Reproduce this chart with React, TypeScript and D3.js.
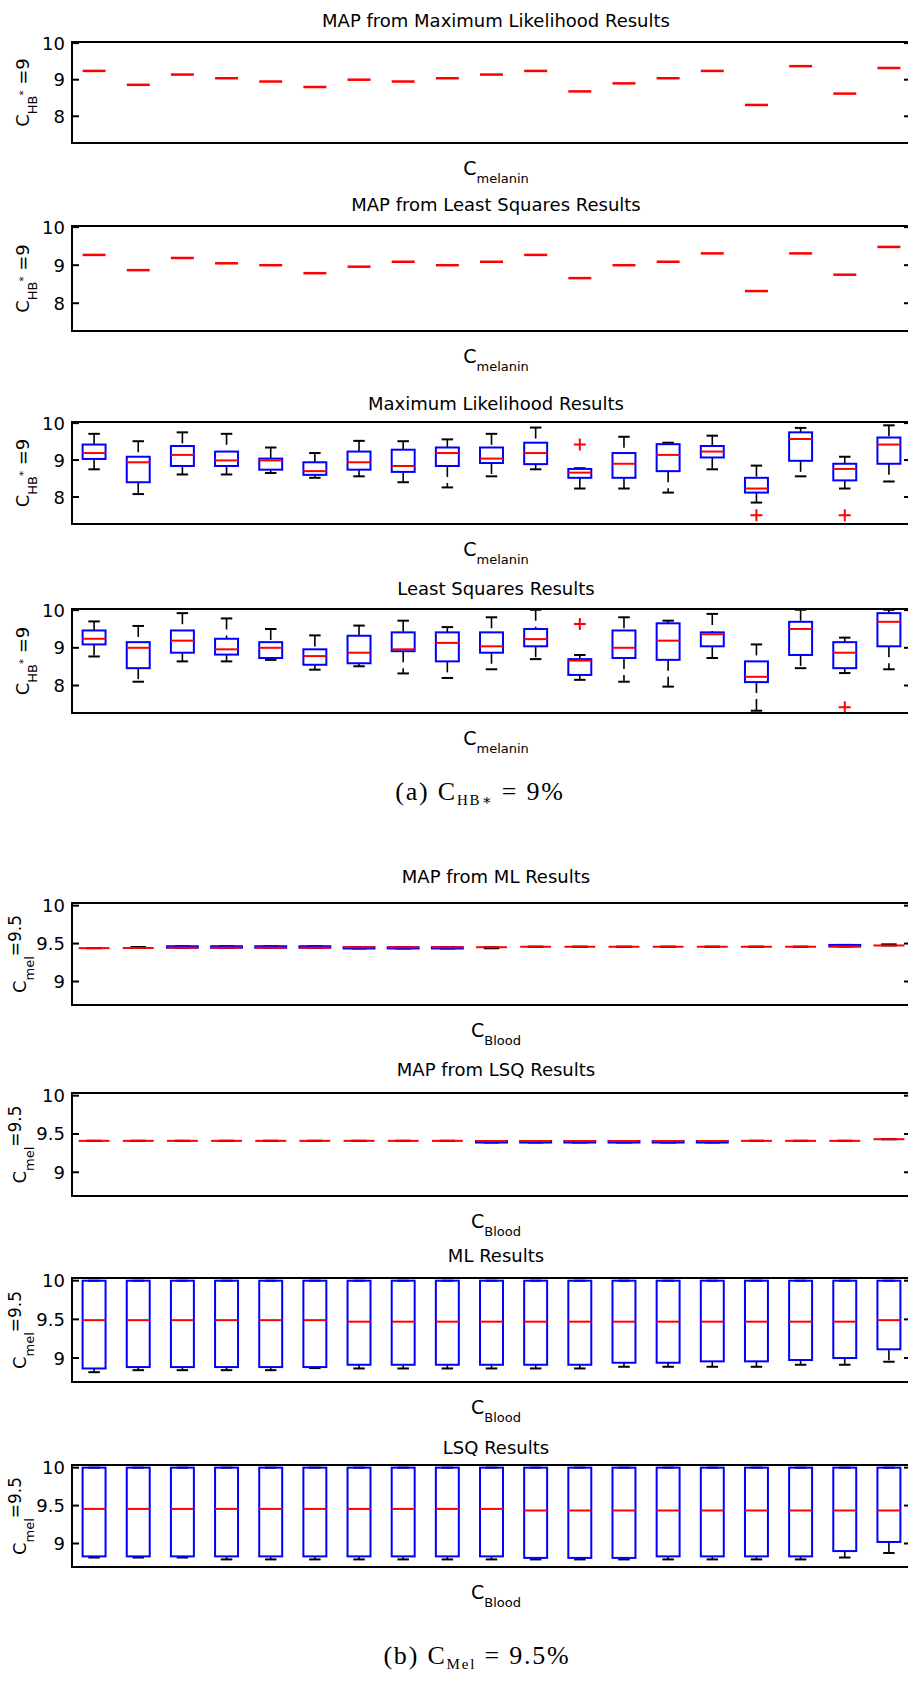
import React from 'react';
import * as d3 from 'd3';

const WIDTH = 908;
const HEIGHT = 1681;
const AX_LEFT = 72;
const AX_RIGHT = 911;
const LABEL_CX = 496;
const SANS = "'DejaVu Sans', 'Liberation Sans', sans-serif";
const SERIF = "'Liberation Serif', 'DejaVu Serif', serif";

// concentration levels along the x axis (boxplot positions)
const levels = [1, 2, 3, 4, 5, 6, 7, 8, 9, 10, 11, 12, 13, 14, 15, 16, 17, 18, 19];

// ---------- (a) C_HB* = 9 ----------
const ticksA = [8, 9, 10];
const domainA: [number, number] = [7.27, 10.03];

const mapMlMed = [9.24, 8.86, 9.14, 9.04, 8.95, 8.8, 9.0, 8.95, 9.04, 9.14, 9.24, 8.68, 8.9, 9.04, 9.24, 8.31, 9.37, 8.62, 9.32];
const mapLsqMed = [9.27, 8.87, 9.19, 9.05, 9.0, 8.79, 8.96, 9.09, 9.0, 9.09, 9.27, 8.66, 9.0, 9.09, 9.31, 8.32, 9.31, 8.75, 9.48];

const mlALo = [8.75, 8.08, 8.61, 8.61, 8.65, 8.52, 8.56, 8.4, 8.26, 8.56, 8.75, 8.23, 8.23, 8.12, 8.75, 7.85, 8.56, 8.23, 8.42];
const mlAQ1 = [9.03, 8.4, 8.84, 8.84, 8.74, 8.6, 8.74, 8.68, 8.84, 8.92, 8.89, 8.52, 8.52, 8.7, 9.07, 8.12, 8.98, 8.45, 8.9];
const mlAMed = [9.19, 8.94, 9.14, 8.99, 8.99, 8.7, 8.94, 8.84, 9.19, 9.04, 9.19, 8.66, 8.9, 9.14, 9.23, 8.23, 9.57, 8.76, 9.42];
const mlAQ3 = [9.42, 9.09, 9.38, 9.23, 9.04, 8.94, 9.23, 9.28, 9.34, 9.34, 9.47, 8.76, 9.19, 9.43, 9.38, 8.52, 9.75, 8.9, 9.61];
const mlAHi = [9.71, 9.51, 9.75, 9.71, 9.34, 9.19, 9.52, 9.51, 9.56, 9.71, 9.88, 8.78, 9.63, 9.47, 9.66, 8.85, 9.87, 9.09, 9.94];
const mlAOut: [number, number][] = [[12, 9.42], [16, 7.51], [18, 7.51]];

const lsqALo = [8.77, 8.1, 8.64, 8.64, 8.68, 8.42, 8.51, 8.32, 8.2, 8.43, 8.7, 8.15, 8.1, 7.97, 8.73, 7.33, 8.46, 8.33, 8.43];
const lsqAQ1 = [9.09, 8.46, 8.87, 8.82, 8.73, 8.55, 8.59, 8.91, 8.64, 8.87, 9.04, 8.28, 8.73, 8.68, 9.04, 8.09, 8.81, 8.46, 9.04];
const lsqAMed = [9.24, 9.0, 9.19, 8.96, 9.0, 8.78, 8.87, 8.96, 9.13, 9.04, 9.23, 8.66, 9.0, 9.19, 9.36, 8.23, 9.5, 8.87, 9.69];
const lsqAQ3 = [9.46, 9.15, 9.46, 9.24, 9.15, 8.96, 9.32, 9.41, 9.41, 9.41, 9.5, 8.7, 9.46, 9.65, 9.41, 8.64, 9.69, 9.15, 9.92];
const lsqAHi = [9.7, 9.58, 9.92, 9.78, 9.5, 9.33, 9.59, 9.72, 9.55, 9.81, 10.01, 8.81, 9.81, 9.72, 9.9, 9.09, 10.01, 9.27, 10.01];
const lsqAOut: [number, number][] = [[12, 9.63], [18, 7.42]];

// ---------- (b) C_mel = 9.5 ----------
const ticksB = [9, 9.5, 10];
const tickLabelsB = ['9', '9.5', '10'];
const domainB: [number, number] = [8.69, 10.035];

const mapMlBLo = [9.44, 9.442, 9.445, 9.445, 9.445, 9.445, 9.435, 9.435, 9.435, 9.438, 9.458, 9.458, 9.458, 9.458, 9.458, 9.458, 9.458, 9.462, 9.475];
const mapMlBQ1 = [9.44, 9.442, 9.445, 9.445, 9.445, 9.445, 9.435, 9.435, 9.435, 9.452, 9.458, 9.458, 9.458, 9.458, 9.458, 9.458, 9.458, 9.462, 9.475];
const mapMlBMed = [9.44, 9.442, 9.445, 9.445, 9.445, 9.445, 9.452, 9.452, 9.452, 9.452, 9.458, 9.458, 9.458, 9.458, 9.458, 9.458, 9.458, 9.462, 9.475];
const mapMlBQ3 = [9.44, 9.442, 9.465, 9.465, 9.465, 9.465, 9.452, 9.452, 9.452, 9.452, 9.458, 9.458, 9.458, 9.458, 9.458, 9.458, 9.458, 9.482, 9.475];
const mapMlBHi = [9.44, 9.455, 9.465, 9.465, 9.465, 9.465, 9.452, 9.452, 9.452, 9.452, 9.458, 9.458, 9.458, 9.458, 9.458, 9.458, 9.458, 9.482, 9.49];

const mapLsqBQ1 = [9.41, 9.41, 9.41, 9.41, 9.41, 9.41, 9.41, 9.41, 9.41, 9.388, 9.388, 9.388, 9.388, 9.388, 9.388, 9.41, 9.41, 9.41, 9.432];
const mapLsqBMed = [9.41, 9.41, 9.41, 9.41, 9.41, 9.41, 9.41, 9.41, 9.41, 9.408, 9.408, 9.408, 9.408, 9.408, 9.408, 9.41, 9.41, 9.41, 9.432];

const mlBLo = [8.817, 8.843, 8.843, 8.843, 8.843, 8.87, 8.865, 8.865, 8.865, 8.865, 8.865, 8.865, 8.887, 8.887, 8.887, 8.887, 8.913, 8.913, 8.952];
const mlBQ1 = [8.865, 8.883, 8.883, 8.883, 8.883, 8.883, 8.913, 8.913, 8.913, 8.913, 8.913, 8.913, 8.939, 8.939, 8.957, 8.957, 8.974, 9.0, 9.113];
const mlBMed = [9.49, 9.49, 9.49, 9.49, 9.49, 9.49, 9.47, 9.47, 9.47, 9.47, 9.47, 9.47, 9.47, 9.47, 9.47, 9.47, 9.47, 9.47, 9.49];
const mlBQ3 = [10, 10, 10, 10, 10, 10, 10, 10, 10, 10, 10, 10, 10, 10, 10, 10, 10, 10, 10];

const lsqBLo = [8.815, 8.815, 8.815, 8.79, 8.79, 8.79, 8.79, 8.79, 8.79, 8.79, 8.79, 8.79, 8.79, 8.79, 8.79, 8.79, 8.79, 8.815, 8.875];
const lsqBQ1 = [8.83, 8.83, 8.83, 8.83, 8.83, 8.83, 8.83, 8.83, 8.83, 8.83, 8.81, 8.81, 8.81, 8.83, 8.83, 8.83, 8.83, 8.9, 9.02];
const lsqBMed = [9.456, 9.456, 9.456, 9.456, 9.456, 9.456, 9.456, 9.456, 9.456, 9.456, 9.435, 9.435, 9.435, 9.435, 9.435, 9.435, 9.435, 9.435, 9.435];
const lsqBQ3 = [10, 10, 10, 10, 10, 10, 10, 10, 10, 10, 10, 10, 10, 10, 10, 10, 10, 10, 10];

type Panel = {
  title: string;
  group: 'a' | 'b';
  top: number;
  bottom: number;
  titleGap: number;
  boxWidth: number;
  lo?: number[];
  q1?: number[];
  med: number[];
  q3?: number[];
  hi?: number[];
  out?: [number, number][];
};

const panels: Panel[] = [
  { title: 'MAP from Maximum Likelihood Results', group: 'a', top: 42, bottom: 143, titleGap: 15, boxWidth: 0.52, med: mapMlMed },
  { title: 'MAP from Least Squares Results', group: 'a', top: 226, bottom: 331, titleGap: 15, boxWidth: 0.52, med: mapLsqMed },
  { title: 'Maximum Likelihood Results', group: 'a', top: 422, bottom: 524, titleGap: 12, boxWidth: 0.52, lo: mlALo, q1: mlAQ1, med: mlAMed, q3: mlAQ3, hi: mlAHi, out: mlAOut },
  { title: 'Least Squares Results', group: 'a', top: 609, bottom: 713, titleGap: 14, boxWidth: 0.52, lo: lsqALo, q1: lsqAQ1, med: lsqAMed, q3: lsqAQ3, hi: lsqAHi, out: lsqAOut },
  { title: 'MAP from ML Results', group: 'b', top: 903, bottom: 1005, titleGap: 20, boxWidth: 0.7, lo: mapMlBLo, q1: mapMlBQ1, med: mapMlBMed, q3: mapMlBQ3, hi: mapMlBHi },
  { title: 'MAP from LSQ Results', group: 'b', top: 1093, bottom: 1196, titleGap: 17, boxWidth: 0.7, lo: mapLsqBQ1, q1: mapLsqBQ1, med: mapLsqBMed, q3: mapLsqBMed, hi: mapLsqBMed },
  { title: 'ML Results', group: 'b', top: 1278, bottom: 1382, titleGap: 16, boxWidth: 0.52, lo: mlBLo, q1: mlBQ1, med: mlBMed, q3: mlBQ3, hi: mlBQ3 },
  { title: 'LSQ Results', group: 'b', top: 1465, bottom: 1567, titleGap: 11, boxWidth: 0.52, lo: lsqBLo, q1: lsqBQ1, med: lsqBMed, q3: lsqBQ3, hi: lsqBQ3 },
];

const BLUE = '#0000ff';
const RED = '#ff0000';

function YLabel({ group, cy }: { group: 'a' | 'b'; cy: number }) {
  if (group === 'a') {
    return (
      <text transform={`translate(29,${cy}) rotate(-90)`} textAnchor="middle" fontFamily={SANS} fontSize={18}>
        <tspan>C</tspan>
        <tspan fontSize={13} dy={8}>HB</tspan>
        <tspan fontSize={10} dy={-10}>*</tspan>
        <tspan dy={2}>{' =9'}</tspan>
      </text>
    );
  }
  return (
    <text transform={`translate(26,${cy}) rotate(-90)`} textAnchor="middle" fontFamily={SANS} fontSize={18}>
      <tspan>C</tspan>
      <tspan fontSize={13} dy={8}>mel</tspan>
      <tspan fontSize={17} dy={-13}>=9.5</tspan>
    </text>
  );
}

function BoxPanel({ p }: { p: Panel }) {
  const x = d3.scaleLinear().domain([0.5, 19.5]).range([AX_LEFT, AX_RIGHT]);
  const y = d3.scaleLinear().domain(p.group === 'a' ? domainA : domainB).range([p.bottom, p.top]);
  const ticks = p.group === 'a' ? ticksA : ticksB;
  const tickText = (v: number, i: number) => (p.group === 'a' ? String(v) : tickLabelsB[i]);
  const half = p.boxWidth / 2;
  const capHalf = p.boxWidth / 4;
  const xLabel = p.group === 'a' ? 'melanin' : 'Blood';
  const full = !!p.q1;

  return (
    <g>
      <text x={LABEL_CX} y={p.top - p.titleGap} textAnchor="middle" fontFamily={SANS} fontSize={18}>{p.title}</text>

      {levels.map((lv, i) => {
        const xl = x(lv - half);
        const xr = x(lv + half);
        if (!full) {
          return <line key={lv} x1={xl} x2={xr} y1={y(p.med[i])} y2={y(p.med[i])} stroke={RED} strokeWidth={2.5} />;
        }
        const lo = p.lo![i], q1 = p.q1![i], md = p.med[i], q3 = p.q3![i], hi = p.hi![i];
        return (
          <g key={lv}>
            {hi > q3 && <line x1={x(lv)} x2={x(lv)} y1={y(hi)} y2={y(q3)} stroke="#000" strokeWidth={1.6} strokeDasharray="11,6" />}
            {lo < q1 && <line x1={x(lv)} x2={x(lv)} y1={y(q1)} y2={y(lo)} stroke="#000" strokeWidth={1.6} strokeDasharray="11,6" />}
            <line x1={x(lv - capHalf)} x2={x(lv + capHalf)} y1={y(hi)} y2={y(hi)} stroke="#000" strokeWidth={2} />
            <line x1={x(lv - capHalf)} x2={x(lv + capHalf)} y1={y(lo)} y2={y(lo)} stroke="#000" strokeWidth={2} />
            <rect x={xl} y={y(q3)} width={xr - xl} height={Math.max(0, y(q1) - y(q3))} fill="none" stroke={BLUE} strokeWidth={2} />
            <line x1={xl} x2={xr} y1={y(md)} y2={y(md)} stroke={RED} strokeWidth={2} />
          </g>
        );
      })}

      {(p.out || []).map(([lv, v], k) => (
        <path key={k} d={`M${x(lv) - 6},${y(v)}H${x(lv) + 6}M${x(lv)},${y(v) - 6}V${y(v) + 6}`} stroke={RED} strokeWidth={2} />
      ))}

      <rect x={AX_LEFT} y={p.top} width={AX_RIGHT - AX_LEFT} height={p.bottom - p.top} fill="none" stroke="#000" strokeWidth={2} />
      {ticks.map((t, i) => (
        <g key={t}>
          <line x1={AX_LEFT} x2={AX_LEFT + 7} y1={y(t)} y2={y(t)} stroke="#000" strokeWidth={2} />
          <line x1={AX_RIGHT} x2={AX_RIGHT - 7} y1={y(t)} y2={y(t)} stroke="#000" strokeWidth={2} />
          <text x={AX_LEFT - 7} y={y(t)} dy="0.36em" textAnchor="end" fontFamily={SANS} fontSize={18}>{tickText(t, i)}</text>
        </g>
      ))}

      <YLabel group={p.group} cy={(p.top + p.bottom) / 2} />

      <text x={LABEL_CX} y={p.bottom + 32} textAnchor="middle" fontFamily={SANS} fontSize={19}>
        <tspan>C</tspan>
        <tspan fontSize={13} dy={8}>{xLabel}</tspan>
      </text>
    </g>
  );
}

export default function App() {
  return (
    <svg width={WIDTH} height={HEIGHT} style={{ position: 'absolute', left: 0, top: 0, background: '#fff' }}>
      <rect width={WIDTH} height={HEIGHT} fill="#fff" />
      {panels.map((p) => <BoxPanel key={p.title} p={p} />)}

      <text x={480} y={800} textAnchor="middle" fontFamily={SERIF} fontSize={26} letterSpacing={1.8}>
        <tspan>(a) C</tspan>
        <tspan fontSize={15} dy={5}>HB∗</tspan>
        <tspan dy={-5}>{' = 9%'}</tspan>
      </text>
      <text x={477} y={1664} textAnchor="middle" fontFamily={SERIF} fontSize={26} letterSpacing={1.8}>
        <tspan>(b) C</tspan>
        <tspan fontSize={15} dy={5}>Mel</tspan>
        <tspan dy={-5}>{' = 9.5%'}</tspan>
      </text>
    </svg>
  );
}
